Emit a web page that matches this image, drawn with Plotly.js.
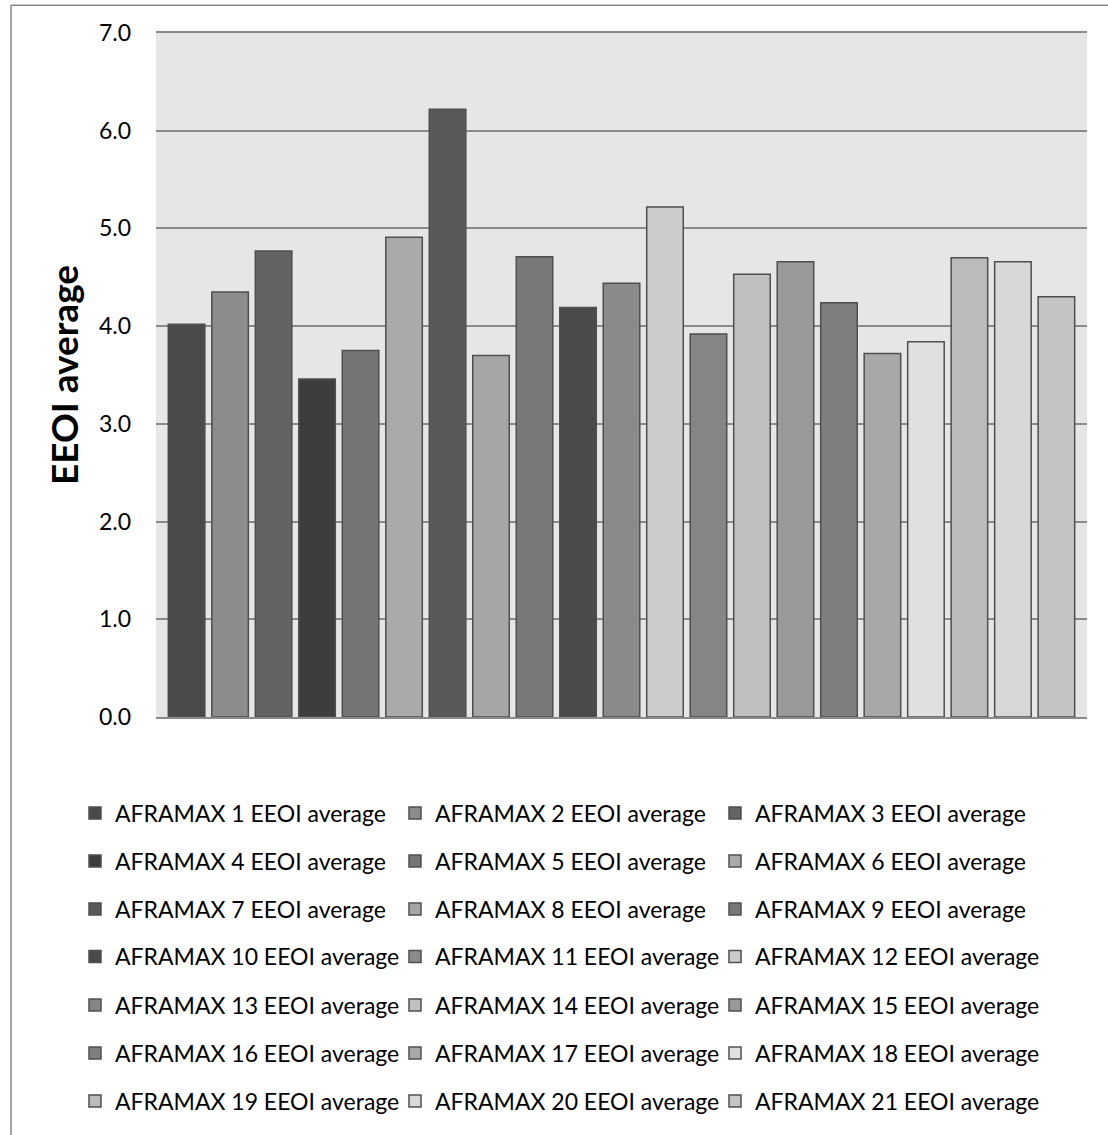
<!DOCTYPE html>
<html>
<head>
<meta charset="utf-8">
<script src="https://cdn.plot.ly/plotly-3.0.1.min.js"></script>
<style>
  html, body { margin: 0; padding: 0; background: #ffffff; }
  #chart { width: 1108px; height: 1135px; }
</style>
</head>
<body>
<div id="chart"></div>
<script>
// ---- Data ----
const category = ['AFRAMAX'];
const seriesNames = [
  'AFRAMAX 1 EEOI average', 'AFRAMAX 2 EEOI average', 'AFRAMAX 3 EEOI average',
  'AFRAMAX 4 EEOI average', 'AFRAMAX 5 EEOI average', 'AFRAMAX 6 EEOI average',
  'AFRAMAX 7 EEOI average', 'AFRAMAX 8 EEOI average', 'AFRAMAX 9 EEOI average',
  'AFRAMAX 10 EEOI average', 'AFRAMAX 11 EEOI average', 'AFRAMAX 12 EEOI average',
  'AFRAMAX 13 EEOI average', 'AFRAMAX 14 EEOI average', 'AFRAMAX 15 EEOI average',
  'AFRAMAX 16 EEOI average', 'AFRAMAX 17 EEOI average', 'AFRAMAX 18 EEOI average',
  'AFRAMAX 19 EEOI average', 'AFRAMAX 20 EEOI average', 'AFRAMAX 21 EEOI average'
];
const eeoiAverage = [
  4.02, 4.35, 4.77, 3.46, 3.75, 4.91, 6.22, 3.70, 4.71, 4.19, 4.44,
  5.22, 3.92, 4.53, 4.66, 4.24, 3.72, 3.84, 4.70, 4.66, 4.30
];
const yTickValues = [0, 1, 2, 3, 4, 5, 6, 7];
const yTickLabels = ['0.0', '1.0', '2.0', '3.0', '4.0', '5.0', '6.0', '7.0'];
const yAxisTitle = 'EEOI average';

// ---- Styles ----
const barColors = [
  '#4a4a4a', '#8c8c8c', '#636363', '#3d3d3d', '#757575', '#aaaaaa', '#595959',
  '#a6a6a6', '#787878', '#4a4a4a', '#8a8a8a', '#cccccc', '#858585', '#c0c0c0',
  '#999999', '#7f7f7f', '#a8a8a8', '#e0e0e0', '#bbbbbb', '#d8d8d8', '#c4c4c4'
];
const FONT = 'Lato, "Open Sans", sans-serif';
const GRID = '#8a8a8a';

// Plot area in pixels
const W = 1108, H = 1135;
const PL = 156, PR = 1087, PT = 33, PB = 724;
const pw = PR - PL, ph = PB - PT;
const px2x = p => (p - PL) / pw;
const py2y = p => (PB - p) / ph;

// legend grid (pixel positions of each column's left edge and each row's centre)
const legendColsX = [75, 395, 715];
const legendRowsY = [821, 869.5, 918, 966, 1015, 1063.5, 1112];
const perRow = 3;

const legendKey = i => (i === 0 ? 'legend' : 'legend' + (i + 1));

const traces = seriesNames.map((name, i) => ({
  type: 'bar',
  x: category,
  y: [eeoiAverage[i]],
  name: name,
  legend: legendKey(i),
  marker: { color: barColors[i], line: { color: '#4f4f4f', width: 1.5 } },
  hoverinfo: 'name+y'
}));

const layout = {
  width: W, height: H,
  margin: { l: PL, r: W - PR, t: PT, b: H - PB, pad: 0 },
  paper_bgcolor: '#ffffff',
  plot_bgcolor: '#e6e6e6',
  font: { family: FONT, size: 23, color: '#000000' },
  barmode: 'group',
  bargap: 0.019,
  bargroupgap: 0.16,
  showlegend: true,
  xaxis: {
    type: 'category',
    showticklabels: false, ticks: '', showgrid: false, zeroline: false,
    showline: true, mirror: true, linecolor: GRID, linewidth: 1.5,
    fixedrange: true
  },
  yaxis: {
    range: [0, 7],
    tickvals: yTickValues, ticktext: yTickLabels,
    ticks: '',
    ticklabelstandoff: 24,
    showgrid: true, gridcolor: GRID, gridwidth: 1.5,
    zeroline: false, showline: false,
    tickfont: { family: FONT, size: 23, color: '#000000' },
    title: { text: yAxisTitle, font: { family: FONT, size: 37, color: '#000000', weight: 'bold' }, standoff: 8 },
    fixedrange: true
  },
  shapes: [
    { type: 'line', xref: 'paper', yref: 'paper', x0: px2x(11), x1: px2x(11), y0: py2y(5), y1: py2y(1200),
      line: { color: '#868686', width: 1.5 } },
    { type: 'line', xref: 'paper', yref: 'paper', x0: px2x(11), x1: px2x(1120), y0: py2y(5), y1: py2y(5),
      line: { color: '#868686', width: 1.5 } }
  ]
};

seriesNames.forEach((name, i) => {
  const row = Math.floor(i / perRow), col = i % perRow;
  layout[legendKey(i)] = {
    orientation: 'v',
    x: px2x(legendColsX[col]), xanchor: 'left',
    y: py2y(legendRowsY[row]), yanchor: 'middle',
    font: { family: FONT, size: 23, color: '#000000' },
    bgcolor: 'rgba(0,0,0,0)', borderwidth: 0,
    itemwidth: 30
  };
});

Plotly.newPlot('chart', traces, layout, { displayModeBar: false });
</script>
</body>
</html>
